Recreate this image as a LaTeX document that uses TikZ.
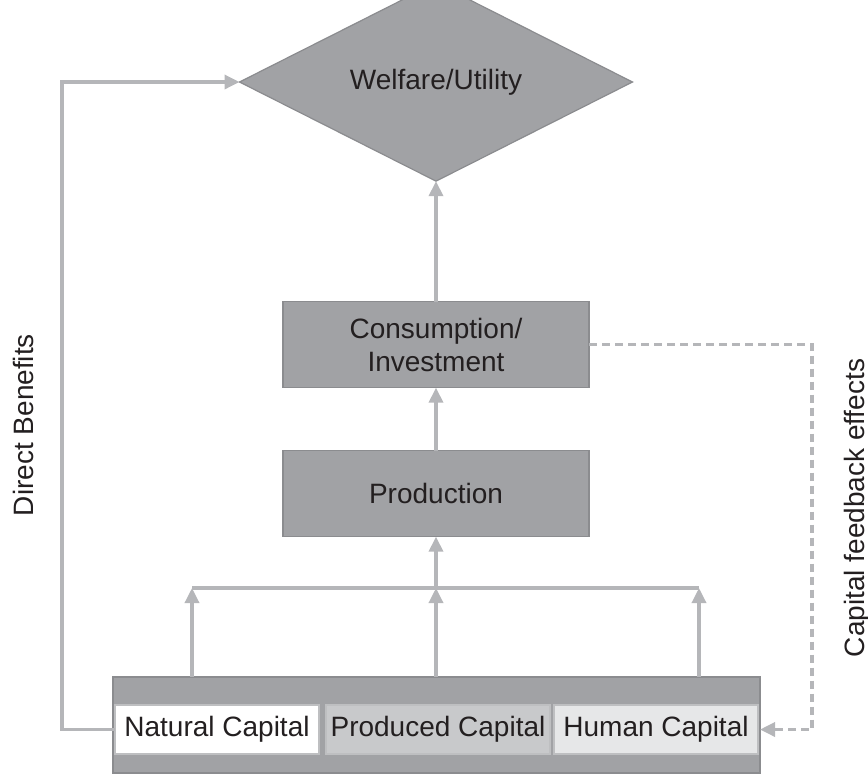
\documentclass[tikz,border=0pt]{standalone}
\usepackage{fontspec}
\setmainfont{Liberation Sans}
\usetikzlibrary{shapes.geometric,arrows.meta,positioning}
\definecolor{boxgray}{HTML}{A1A2A5}
\definecolor{edgegray}{HTML}{8B8C8F}
\definecolor{linegray}{HTML}{B5B6B9}
\definecolor{cellgray}{HTML}{BEBFC1}
\definecolor{producedgray}{HTML}{C8C9CB}
\definecolor{humangray}{HTML}{E6E7E8}
\definecolor{inkblack}{HTML}{231F20}
\newcommand{\diagfont}{\fontsize{14}{16.5}\selectfont}
\tikzset{
  gbox/.style={
    rectangle, draw=edgegray, line width=0.6pt, fill=boxgray,
    minimum width=153pt, minimum height=43pt, inner sep=0pt,
    outer sep=0pt, align=center, text=inkblack, font=\diagfont
  },
  wdiamond/.style={
    diamond, draw=edgegray, line width=0.6pt, fill=boxgray,
    minimum width=196.5pt, minimum height=70.5pt, inner sep=0pt,
    outer sep=0pt, align=center, text=inkblack, font=\diagfont
  },
  capbox/.style 2 args={
    rectangle, draw=cellgray, line width=0.8pt, fill=#1,
    minimum width=#2, minimum height=24.5pt, inner sep=0pt,
    outer sep=0pt, text=inkblack, font=\diagfont
  },
  arr/.style={-{Triangle[length=7.5pt,width=7pt]}, line width=1.7pt, linegray},
  darr/.style={arr, dash pattern=on 4pt off 2.5pt},
  lbl/.style={rotate=90, text=inkblack, font=\diagfont}
}

\begin{document}
\begin{tikzpicture}
\useasboundingbox (0,0) rectangle (434pt,-386.5pt);

% Goal
\node[wdiamond] (welfare) at (218pt,-41pt) {Welfare/Utility};

% Economy
\node[gbox, below=60.25pt of welfare] (cons) {Consumption/\\Investment};
\node[gbox, below=31.5pt of cons] (prod) {Production};

% Capital stocks
\node[gbox, minimum width=323.5pt, minimum height=48pt] (capitals)
  at (218.25pt,-362.5pt) {};
\node[capbox={producedgray}{112pt}] (produced) at (219pt,-364.75pt)
  {Produced Capital};
\node[capbox={white}{102pt}, left=3.5pt of produced] (natural)
  {Natural Capital};
\node[capbox={humangray}{102pt}, right=2pt of produced] (human)
  {Human Capital};

% Junctions
\coordinate (jl) at (96pt,-294pt);
\coordinate (jr) at (349.5pt,-294pt);
\coordinate (jm) at (prod.south |- jl);
\coordinate (db) at (31pt,-41pt);
\coordinate (fb) at (406pt,-364.75pt);

% Labels
\node[lbl] (dblbl) at (11.5pt,-212.5pt) {Direct Benefits};
\node[lbl] (fblbl) at (428.5pt,-254pt) {Capital feedback effects};

% ── Arrows ──────────────────────────────────────────────
\draw[arr] (cons.north) -- (welfare.south);
\draw[arr] (prod.north) -- (cons.south);
\draw[arr] (jm) -- (prod.south);
\draw[line width=1.7pt, linegray] (jl) -- (jr);
\draw[arr] (capitals.north -| jl) -- (jl);
\draw[arr] (capitals.north -| jm) -- (jm);
\draw[arr] (capitals.north -| jr) -- (jr);

% Direct benefits loop
\draw[arr] (natural.west) -| (db) -- (welfare.west);

% Feedback loop
\draw[darr] (cons.east) -| (fb) -- (capitals.east |- fb);

\end{tikzpicture}
\end{document}
